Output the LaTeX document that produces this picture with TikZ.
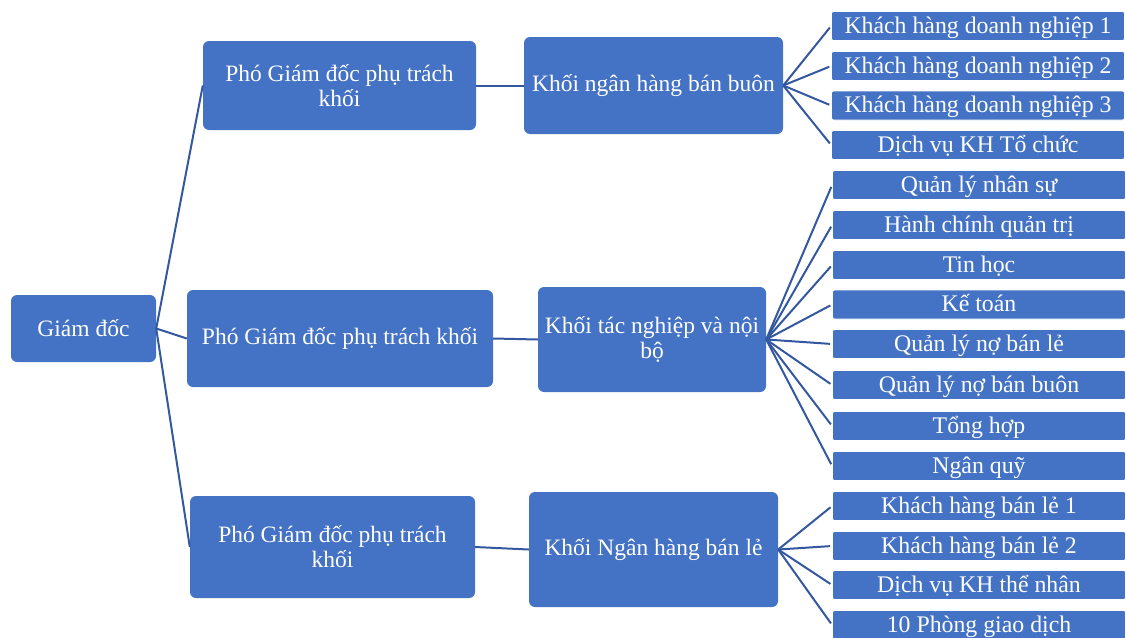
\documentclass[tikz,border=0pt]{standalone}
\usepackage{fontspec}
\setmainfont{Liberation Serif}
\definecolor{boxblue}{RGB}{68,114,196}
\definecolor{linkblue}{RGB}{52,88,160}
\begin{document}
\begin{tikzpicture}[x=1pt,y=-1pt,
  mainbox/.style={draw=none,fill=boxblue,rounded corners=6pt,text=white,align=center,
    inner sep=0pt,font=\fontsize{23.5}{25}\selectfont},
  leaf/.style={draw=white,line width=0.8pt,fill=boxblue,rounded corners=2pt,text=white,
    minimum width=293pt,minimum height=29pt,inner sep=0pt,text height=19pt,text depth=5pt,
    font=\fontsize{23.8}{25}\selectfont},
  link/.style={draw=linkblue,line width=2pt},
  leaflink/.style={draw=linkblue,line width=2pt,shorten >=2pt}]
\useasboundingbox (0,0) rectangle (1126,637);
\clip (0,0) rectangle (1126,637);

\node[mainbox,minimum width=145pt,minimum height=67pt] (gd) at (83.5,328.5) {Giám đốc};

\node[mainbox,minimum width=273pt,minimum height=89pt] (p1) at (339.5,85.5) {Phó Giám đốc phụ trách\\khối};
\node[mainbox,minimum width=306pt,minimum height=97pt] (p2) at (340,338.5) {Phó Giám đốc phụ trách khối};
\node[mainbox,minimum width=285pt,minimum height=102pt] (p3) at (332.5,547) {Phó Giám đốc phụ trách\\khối};

\node[mainbox,minimum width=259pt,minimum height=97pt] (k1) at (653.5,85.5) {Khối ngân hàng bán buôn};
\node[mainbox,minimum width=228pt,minimum height=105pt] (k2) at (652,339.5) {Khối tác nghiệp và nội\\bộ};
\node[mainbox,minimum width=249pt,minimum height=115pt] (k3) at (653.5,549.5) {Khối Ngân hàng bán lẻ};

\node[leaf] (a1) at (978,26) {Khách hàng doanh nghiệp 1};
\node[leaf] (a2) at (978,66) {Khách hàng doanh nghiệp 2};
\node[leaf] (a3) at (978,105.5) {Khách hàng doanh nghiệp 3};
\node[leaf] (a4) at (978,145) {Dịch vụ KH Tổ chức};

\node[leaf] (b1) at (979,185) {Quản lý nhân sự};
\node[leaf] (b2) at (979,225) {Hành chính quản trị};
\node[leaf] (b3) at (979,265) {Tin học};
\node[leaf] (b4) at (979,304.5) {Kế toán};
\node[leaf] (b5) at (979,344) {Quản lý nợ bán lẻ};
\node[leaf] (b6) at (979,385) {Quản lý nợ bán buôn};
\node[leaf] (b7) at (979,426) {Tổng hợp};
\node[leaf] (b8) at (979,466) {Ngân quỹ};

\node[leaf] (c1) at (979,506) {Khách hàng bán lẻ 1};
\node[leaf] (c2) at (979,546) {Khách hàng bán lẻ 2};
\node[leaf] (c3) at (979,585) {Dịch vụ KH thể nhân};
\node[leaf] (c4) at (979,625) {10 Phòng giao dịch};

\foreach \p in {p1,p2,p3} \draw[link] (gd.east) -- (\p.west);
\draw[link] (p1.east) -- (k1.west);
\draw[link] (p2.east) -- (k2.west);
\draw[link] (p3.east) -- (k3.west);
\foreach \l in {a1,a2,a3,a4} \draw[leaflink] (k1.east) -- (\l.west);
\foreach \l in {b1,b2,b3,b4,b5,b6,b7,b8} \draw[leaflink] (k2.east) -- (\l.west);
\foreach \l in {c1,c2,c3,c4} \draw[leaflink] (k3.east) -- (\l.west);
\end{tikzpicture}
\end{document}
